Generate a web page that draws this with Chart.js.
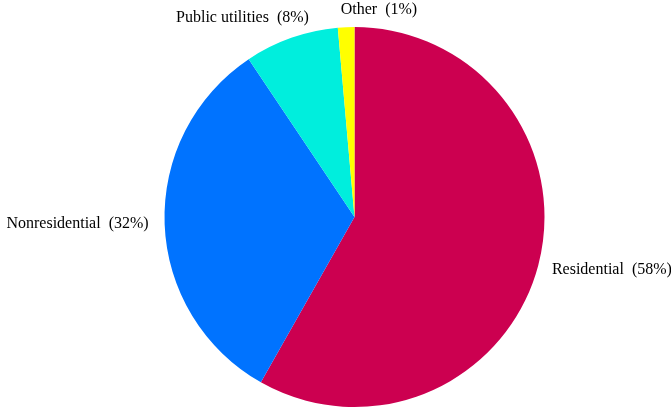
<!DOCTYPE html>
<html>
<head>
<meta charset="utf-8">
<script src="https://cdn.jsdelivr.net/npm/chart.js@4/dist/chart.umd.min.js"></script>
<style>
  body { margin: 0; background: #fff; }
  canvas { display: block; }
</style>
</head>
<body>
<canvas id="myChart" width="671" height="408"></canvas>
<script>

var sectors = ['Residential', 'Nonresidential', 'Public utilities', 'Other'];
var shares = [58.2, 32.4, 8.0, 1.4];
var sliceColors = ['#cc0050', '#0073ff', '#00eedd', '#ffff00'];

// label placement around the pie: text alignment and a small nudge per slice
var labelAlign = ['left', 'right', 'right', 'left'];
var labelNudge = [[4, 2], [-6, -1], [21, -11], [-5, -7]];

var outsideLabels = {
    id: 'outsideLabels',
    afterDatasetsDraw: function(chart) {
        var ctx = chart.ctx;
        var meta = chart.getDatasetMeta(0);
        ctx.save();
        ctx.font = '16px "Liberation Serif", "Times New Roman", serif';
        ctx.fillStyle = '#000';
        ctx.textBaseline = 'middle';
        meta.data.forEach(function(arc, i) {
            var mid = (arc.startAngle + arc.endAngle) / 2;
            var r = arc.outerRadius + 10;
            var x = arc.x + Math.cos(mid) * r + labelNudge[i][0];
            var y = arc.y + Math.sin(mid) * r + labelNudge[i][1];
            ctx.textAlign = labelAlign[i];
            ctx.fillText(sectors[i] + '  (' + Math.round(shares[i]) + '%)', x, y);
        });
        ctx.restore();
    }
};

var ctx = document.getElementById('myChart').getContext('2d');

var chart = new Chart(ctx, {
    type: 'pie',
    data: {
        labels: sectors,
        datasets: [{
            data: shares,
            backgroundColor: sliceColors,
            borderWidth: 0,
            hoverOffset: 0
        }]
    },
    options: {
        responsive: false,
        animation: false,
        layout: {
            padding: { top: 27, bottom: 1, left: 38, right: 0 }
        },
        plugins: {
            legend: { display: false },
            tooltip: { enabled: false }
        }
    },
    plugins: [outsideLabels]
});
</script>
</body>
</html>
